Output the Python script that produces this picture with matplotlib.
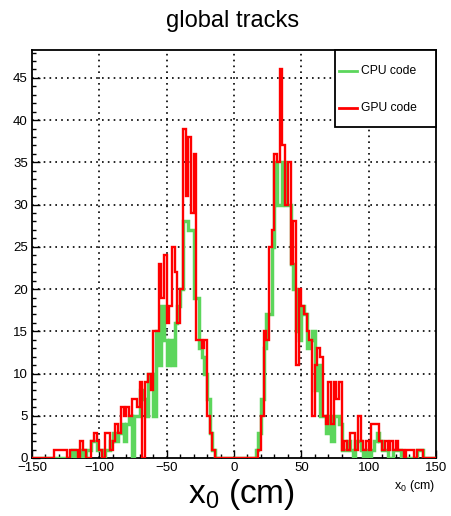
import numpy as np
import matplotlib
matplotlib.use('Agg')
import matplotlib.pyplot as plt
from matplotlib.patches import Rectangle
from matplotlib.lines import Line2D

plt.rcParams['font.family'] = ['Liberation Sans', 'DejaVu Sans']
plt.rcParams['mathtext.default'] = 'regular'

# histogram binning: x0 from -150 to 150 cm, 2 cm bins
bin_width = 2
x_min, x_max = -150, 150

# negative-side cluster, bins starting at -136
left_start = -136
cpu_left = [0, 0, 0, 0, 0, 0, 0, 0, 1, 0, 0, 1, 0, 1, 1, 2, 2, 1, 1, 0,
            1, 1, 2, 3, 2, 3, 4, 2, 4, 5, 0, 5, 5, 8, 7, 5, 10, 10, 5, 15,
            11, 18, 14, 11, 14, 11, 16, 18, 20, 28, 28, 27, 27, 19, 19, 13, 12, 10, 7, 3,
            1]
gpu_left = [0, 1, 1, 1, 1, 1, 0, 1, 1, 1, 0, 2, 1, 0, 0, 2, 3, 2, 1, 0,
            3, 3, 1, 2, 4, 3, 6, 5, 6, 5, 7, 7, 6, 9, 0, 9, 10, 8, 15, 15,
            23, 19, 24, 16, 18, 25, 22, 16, 20, 39, 31, 38, 29, 36, 14, 14, 13, 14, 5, 3,
            1]

# positive-side cluster, bins starting at 16
right_start = 16
cpu_right = [1, 3, 7, 13, 17, 17, 25, 35, 30, 30, 35, 30, 30, 23, 20, 15, 14, 18, 17, 13,
             14, 15, 8, 11, 5, 5, 3, 5, 2, 5, 5, 4, 1, 1, 2, 1, 0, 2, 2, 1,
             0, 1, 0, 1, 2, 3, 2, 1, 1, 0, 0, 1, 1, 1, 0, 0, 0, 0, 0, 0,
             1, 1, 0]
gpu_right = [0, 1, 5, 15, 14, 25, 27, 36, 35, 46, 37, 30, 35, 23, 28, 11, 20, 18, 17, 15,
             14, 5, 11, 13, 12, 5, 4, 9, 4, 9, 7, 9, 1, 2, 1, 3, 3, 1, 5, 2,
             1, 2, 1, 4, 4, 4, 2, 1, 2, 1, 2, 1, 2, 1, 1, 0, 1, 1, 1, 0,
             1, 1, 0]

edges = np.arange(x_min, x_max + bin_width, bin_width)


def fill_counts(left, right):
    counts = np.zeros(len(edges) - 1)
    i0 = (left_start - x_min) // bin_width
    counts[i0:i0 + len(left)] = left
    i1 = (right_start - x_min) // bin_width
    counts[i1:i1 + len(right)] = right
    return counts


cpu_counts = fill_counts(cpu_left, cpu_right)
gpu_counts = fill_counts(gpu_left, gpu_right)

green = '#5cd65c'
red = '#ff0000'

W, H = 451, 516
fig = plt.figure(figsize=(W / 100, H / 100), dpi=100)
ax = fig.add_axes([32 / W, 1 - 458 / H, (436 - 32) / W, (458 - 50) / H])

ax.stairs(cpu_counts, edges, color=green, linewidth=2.5, zorder=3)
ax.stairs(gpu_counts, edges, color=red, linewidth=1.7, zorder=4)

ax.set_xlim(x_min, x_max)
ax.set_ylim(0, 48.3)
ax.set_xticks(np.arange(-150, 151, 50))
ax.set_xticks(np.arange(-150, 151, 10), minor=True)
ax.set_yticks(np.arange(0, 46, 5))
ax.set_yticks(np.arange(0, 49, 1), minor=True)
ax.tick_params(which='both', direction='in', top=False, right=False,
               labelsize=9.5, pad=3, width=1)
ax.tick_params(which='major', length=6)
ax.tick_params(which='minor', length=3)
for s in ax.spines.values():
    s.set_linewidth(1.3)

# dotted grid at the major divisions
for gx in [-100, -50, 0, 50, 100]:
    ax.axvline(gx, color='black', linewidth=1.2, linestyle=(0, (1, 2.5)), zorder=1)
for gy in range(5, 46, 5):
    ax.axhline(gy, color='black', linewidth=1.2, linestyle=(0, (1, 2.5)), zorder=1)

# titles and labels
fig.text(232.5 / W, 1 - 21 / H, 'global tracks', ha='center', va='center', fontsize=17)
fig.text(241 / W, 1 - 503 / H, 'x$_0$ (cm)', ha='center', va='baseline', fontsize=24)
fig.text(435 / W, 1 - 489 / H, 'x$_0$ (cm)', ha='right', va='baseline', fontsize=9)

# legend box
fig.add_artist(Rectangle((335 / W, 1 - 127 / H), (436 - 335) / W, (127 - 50) / H,
                         transform=fig.transFigure, facecolor='white',
                         edgecolor='black', linewidth=1.3, zorder=10))
for yy, col, lab in [(71, green, 'CPU code'), (108, red, 'GPU code')]:
    fig.add_artist(Line2D([339 / W, 357 / W], [1 - yy / H, 1 - yy / H],
                          transform=fig.transFigure, color=col, linewidth=2, zorder=11))
    fig.text(361 / W, 1 - yy / H, lab, ha='left', va='center', fontsize=8.7, zorder=11)

fig.savefig('out.png', dpi=100)
